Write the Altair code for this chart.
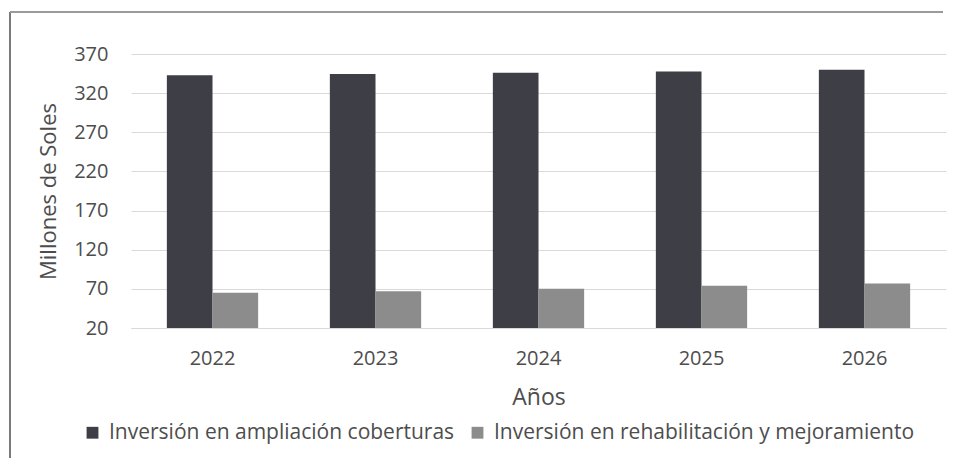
import altair as alt
import pandas as pd

years = ["2022", "2023", "2024", "2025", "2026"]
ampliacion = [343, 344.5, 346, 347.5, 350]
rehabilitacion = [65, 67, 70, 74, 77]
series = ["Inversión en ampliación coberturas", "Inversión en rehabilitación y mejoramiento"]
colors = ["#3e3e47", "#8c8c8c"]
y_ticks = [20, 70, 120, 170, 220, 270, 320, 370]

rows = []
for i, yr in enumerate(years):
    rows.append({"Año": yr, "Serie": series[0], "Valor": ampliacion[i]})
    rows.append({"Año": yr, "Serie": series[1], "Valor": rehabilitacion[i]})
df = pd.DataFrame(rows)

FONT = "Open Sans"
TXT = "#4d4d4d"

bars = alt.Chart(df).mark_bar().encode(
    x=alt.X("Año:N", title="Años", sort=years,
            scale=alt.Scale(paddingInner=0.44, paddingOuter=0.22),
            axis=alt.Axis(labelAngle=0, ticks=False, tickSize=0, domain=True,
                          domainColor="#d9d9d9", labelPadding=20, titlePadding=18,
                          labelFontSize=20, titleFontSize=23, titleFontWeight="normal")),
    xOffset=alt.XOffset("Serie:N", sort=series, scale=alt.Scale(paddingInner=0, paddingOuter=0)),
    y=alt.Y("Valor:Q", title="Millones de Soles",
            scale=alt.Scale(domain=[20, 370], nice=False, zero=False),
            axis=alt.Axis(values=y_ticks, ticks=False, tickSize=0, domain=False,
                          labelPadding=23, titlePadding=13, gridColor="#d9d9d9",
                          labelFontSize=20, titleFontSize=22, titleFontWeight="normal")),
    y2=alt.datum(20),
    color=alt.Color("Serie:N", sort=series,
                    scale=alt.Scale(domain=series, range=colors),
                    legend=alt.Legend(title=None, orient="none", direction="horizontal",
                                      legendX=-49, legendY=368, symbolType="square",
                                      symbolSize=140, symbolStrokeWidth=0, labelLimit=0,
                                      labelFontSize=21, columnPadding=12, labelOffset=6)),
)

frame_data = alt.Data(values=[{}])
left_line = alt.Chart(frame_data).mark_rule(color="#7a7a7a", strokeWidth=2).encode(
    x=alt.value(-121), y=alt.value(-42), y2=alt.value(420))
top_line = alt.Chart(frame_data).mark_rule(color="#9a9a9a", strokeWidth=2).encode(
    x=alt.value(-121), x2=alt.value(812), y=alt.value(-42))

chart = alt.layer(bars, left_line, top_line).properties(
    width=815, height=274,
    autosize=alt.AutoSizeParams(type="none"),
    padding={"left": 123, "top": 46, "right": 5, "bottom": 130},
).configure(
    font=FONT,
).configure_axis(
    labelColor=TXT, titleColor=TXT, labelFont=FONT, titleFont=FONT,
).configure_legend(
    labelColor=TXT, labelFont=FONT,
).configure_view(stroke=None)

chart.save("out.html", embed_options={"renderer": "svg", "actions": False})
